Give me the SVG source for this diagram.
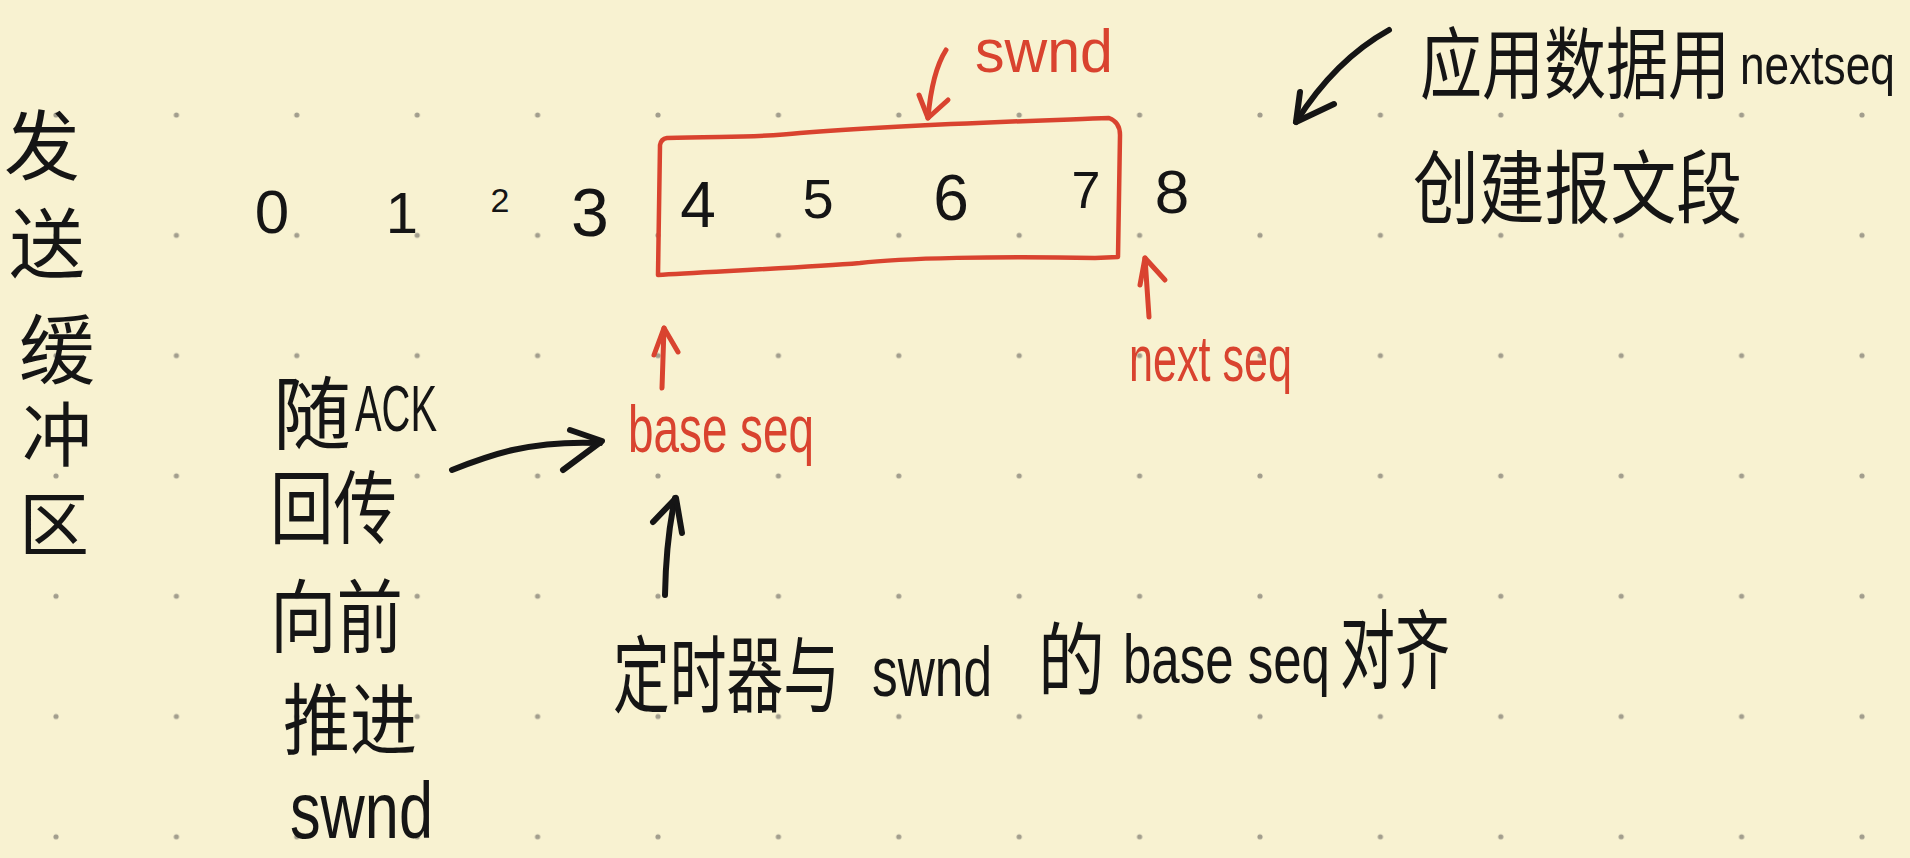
<svg xmlns="http://www.w3.org/2000/svg" width="1910" height="858" viewBox="0 0 1910 858">
<defs>
<pattern id="dots" x="56" y="115" width="120.4" height="120.3" patternUnits="userSpaceOnUse">
<circle cx="0" cy="0" r="2.6" fill="#a29e8d"/>
<circle cx="120.4" cy="0" r="2.6" fill="#a29e8d"/>
<circle cx="0" cy="120.3" r="2.6" fill="#a29e8d"/>
<circle cx="120.4" cy="120.3" r="2.6" fill="#a29e8d"/>
</pattern>
<style>
text{font-family:'Liberation Sans','Noto Sans CJK SC',sans-serif;}
.k{fill:#151515;}
.r{fill:#d9432f;}
.ck{fill:none;stroke:#151515;stroke-width:6;stroke-linecap:round;stroke-linejoin:round;}
.cr{fill:none;stroke:#d9432f;stroke-width:5;stroke-linecap:round;stroke-linejoin:round;}
.box{fill:none;stroke:#d9432f;stroke-width:4.5;stroke-linecap:round;stroke-linejoin:round;}
.d{text-anchor:middle;}
</style>
</defs>
<rect x="0" y="0" width="1910" height="858" fill="#f8f2d1"/>
<rect x="50" y="109" width="1820" height="740" fill="url(#dots)"/>

<g id="title-vertical">
<text class="k d" font-size="76"><tspan x="42" y="174">发</tspan><tspan x="47" y="272">送</tspan><tspan x="57" y="378">缓</tspan><tspan x="57" y="461" font-size="70">冲</tspan><tspan x="54" y="551" font-size="70">区</tspan></text>
</g>

<g id="seq-numbers">
<text class="k d" x="272" y="233" font-size="62">0</text>
<text class="k d" x="402" y="233" font-size="58">1</text>
<text class="k d" x="500" y="212" font-size="34">2</text>
<text class="k d" x="590" y="236" font-size="68">3</text>
<text class="k d" x="698" y="227" font-size="64">4</text>
<text class="k d" x="818" y="218" font-size="56">5</text>
<text class="k d" x="951" y="220" font-size="64">6</text>
<text class="k d" x="1086" y="208" font-size="52">7</text>
<text class="k d" x="1172" y="213" font-size="62">8</text>
</g>

<g id="swnd-window">
<path class="box" d="M667,138 C720,136 760,138 800,133 C900,125 1000,122 1109,118 Q1120,122 1120,135 L1118,257 L1095,258 C1000,256 900,258 860,263 C800,268 700,272 658,275 L660,145 Q661,139 667,138 Z"/>
</g>

<g id="label-swnd">
<text class="r" x="975" y="72" font-size="62" textLength="138" lengthAdjust="spacingAndGlyphs">swnd</text>
</g>

<g id="label-base-seq">
<text class="r" transform="translate(628,0) scale(0.72,1)" x="0" y="452" font-size="66" textLength="258.3" lengthAdjust="spacingAndGlyphs">base seq</text>
</g>

<g id="label-next-seq">
<text class="r" transform="translate(1129,0) scale(0.68,1)" x="0" y="381" font-size="64" textLength="239.7" lengthAdjust="spacingAndGlyphs">next seq</text>
</g>

<g id="note-app-data">
<text class="k" transform="translate(1413,0) scale(0.78,1)"><tspan x="9" y="93" font-size="78" textLength="397.4" lengthAdjust="spacingAndGlyphs">应用数据用</tspan> <tspan x="419.2" y="84" font-size="56" textLength="198.7" lengthAdjust="spacingAndGlyphs">nextseq</tspan> <tspan x="0" y="217" font-size="80" textLength="421.8" lengthAdjust="spacingAndGlyphs">创建报文段</tspan></text>
</g>

<g id="note-ack">
<text class="k" transform="translate(270,0) scale(0.8,1)"><tspan x="3.75" y="443" font-size="80" textLength="97.5" lengthAdjust="spacingAndGlyphs">随</tspan><tspan x="106.25" y="431" font-size="64" textLength="102.5" lengthAdjust="spacingAndGlyphs">ACK</tspan> <tspan x="0" y="537" font-size="80" textLength="158.75" lengthAdjust="spacingAndGlyphs">回传</tspan> <tspan x="0" y="646" font-size="80" textLength="166.25" lengthAdjust="spacingAndGlyphs">向前</tspan> <tspan x="16.25" y="749" font-size="78" textLength="167.5" lengthAdjust="spacingAndGlyphs">推进</tspan> <tspan x="25" y="838" font-size="80" textLength="178.75" lengthAdjust="spacingAndGlyphs">swnd</tspan></text>
</g>

<g id="note-timer">
<text class="k" transform="translate(613,0) scale(0.75,1)"><tspan x="0" y="706" font-size="84" textLength="302.7" lengthAdjust="spacingAndGlyphs">定时器与</tspan> <tspan x="345.3" y="696" font-size="70" textLength="160" lengthAdjust="spacingAndGlyphs">swnd</tspan> <tspan x="566.7" y="689" font-size="80" textLength="89.3" lengthAdjust="spacingAndGlyphs">的</tspan> <tspan x="680" y="683" font-size="68" textLength="276" lengthAdjust="spacingAndGlyphs">base seq</tspan> <tspan x="969.3" y="682" font-size="86" textLength="146.7" lengthAdjust="spacingAndGlyphs">对齐</tspan></text>
</g>

<g id="connectors">
<path class="cr" d="M946,50 Q932,72 928,118"/>
<path class="cr" d="M919,95 L928,118 L948,100"/>
<path class="cr" d="M1149,317 L1145,258"/>
<path class="cr" d="M1140,285 L1145,258 L1165,280"/>
<path class="cr" d="M662,388 L664,328"/>
<path class="cr" d="M654,355 L664,328 L678,352"/>
<path class="ck" d="M452,470 C490,455 530,440 600,443"/>
<path class="ck" d="M570,430 L602,441 L563,470"/>
<path class="ck" d="M665,595 Q666,540 675,498"/>
<path class="ck" d="M653,522 L676,498 L682,533"/>
<path class="ck" d="M1389,30 Q1335,60 1296,122"/>
<path class="ck" d="M1300,92 L1296,122 L1334,104"/>
</g>
</svg>
